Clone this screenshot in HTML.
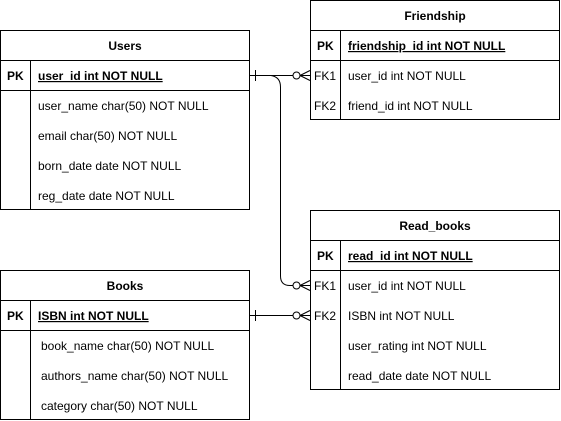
<!DOCTYPE html>
<html><head><style>
html,body{margin:0;padding:0;background:#fff;}
svg{display:block;}
text{font-family:"Liberation Sans",Arial,sans-serif;font-size:12px;fill:#000;}
.b{font-weight:bold;}
</style></head><body>
<svg width="561" height="421" viewBox="0 0 561 421" xmlns="http://www.w3.org/2000/svg">
<g fill="none" stroke="#000" stroke-width="1">
<!-- Users -->
<rect x="0.5" y="30.5" width="249" height="179"/>
<line x1="0.5" y1="60.5" x2="249.5" y2="60.5"/>
<line x1="0.5" y1="90.5" x2="249.5" y2="90.5"/>
<line x1="30.5" y1="60.5" x2="30.5" y2="209.5"/>
<!-- Friendship -->
<rect x="310.5" y="0.5" width="249" height="119"/>
<line x1="310.5" y1="30.5" x2="559.5" y2="30.5"/>
<line x1="310.5" y1="60.5" x2="559.5" y2="60.5"/>
<line x1="340.5" y1="30.5" x2="340.5" y2="119.5"/>
<!-- Read_books -->
<rect x="310.5" y="210.5" width="249" height="179"/>
<line x1="310.5" y1="240.5" x2="559.5" y2="240.5"/>
<line x1="310.5" y1="270.5" x2="559.5" y2="270.5"/>
<line x1="340.5" y1="240.5" x2="340.5" y2="389.5"/>
<!-- Books -->
<rect x="0.5" y="270.5" width="249" height="149"/>
<line x1="0.5" y1="300.5" x2="249.5" y2="300.5"/>
<line x1="0.5" y1="330.5" x2="249.5" y2="330.5"/>
<line x1="30.5" y1="300.5" x2="30.5" y2="419.5"/>
<!-- connectors -->
<line x1="250" y1="75.5" x2="293" y2="75.5"/>
<line x1="255.5" y1="70" x2="255.5" y2="81"/>
<circle cx="296.5" cy="75.5" r="3.5"/>
<path d="M300 75.5 L310 75.5 M300 75.5 L310 70.5 M300 75.5 L310 80.5"/>
<path d="M271 75.5 Q280.5 77 280.5 87 L280.5 276 Q280.5 285.5 290 285.5 L293 285.5"/>
<circle cx="296.5" cy="285.5" r="3.5"/>
<path d="M300 285.5 L310 285.5 M300 285.5 L310 280.5 M300 285.5 L310 290.5"/>
<line x1="250" y1="315.5" x2="293" y2="315.5"/>
<line x1="255.5" y1="310" x2="255.5" y2="321"/>
<circle cx="296.5" cy="315.5" r="3.5"/>
<path d="M300 315.5 L310 315.5 M300 315.5 L310 310.5 M300 315.5 L310 320.5"/>
</g>
<text class="b" x="125" y="50" text-anchor="middle">Users</text>
<text class="b" x="7" y="80">PK</text>
<text class="b" x="38" y="80" text-decoration="underline">user_id int NOT NULL</text>
<text x="38" y="110">user_name char(50) NOT NULL</text>
<text x="38" y="140">email char(50) NOT NULL</text>
<text x="38" y="170">born_date date NOT NULL</text>
<text x="38" y="200">reg_date date NOT NULL</text>

<text class="b" x="435" y="20" text-anchor="middle">Friendship</text>
<text class="b" x="317" y="50">PK</text>
<text class="b" x="348" y="50" text-decoration="underline">friendship_id int NOT NULL</text>
<text x="314" y="80">FK1</text>
<text x="348" y="80">user_id int NOT NULL</text>
<text x="314" y="110">FK2</text>
<text x="348" y="110">friend_id int NOT NULL</text>

<text class="b" x="435" y="230" text-anchor="middle">Read_books</text>
<text class="b" x="317" y="260">PK</text>
<text class="b" x="348" y="260" text-decoration="underline">read_id int NOT NULL</text>
<text x="314" y="290">FK1</text>
<text x="348" y="290">user_id int NOT NULL</text>
<text x="314" y="320">FK2</text>
<text x="348" y="320">ISBN int NOT NULL</text>
<text x="348" y="350">user_rating int NOT NULL</text>
<text x="348" y="380">read_date date NOT NULL</text>

<text class="b" x="125" y="290" text-anchor="middle">Books</text>
<text class="b" x="7" y="320">PK</text>
<text class="b" x="38" y="320" text-decoration="underline">ISBN int NOT NULL</text>
<text x="41" y="350">book_name char(50) NOT NULL</text>
<text x="41" y="380">authors_name char(50) NOT NULL</text>
<text x="41" y="410">category char(50) NOT NULL</text>
</svg>
</body></html>
